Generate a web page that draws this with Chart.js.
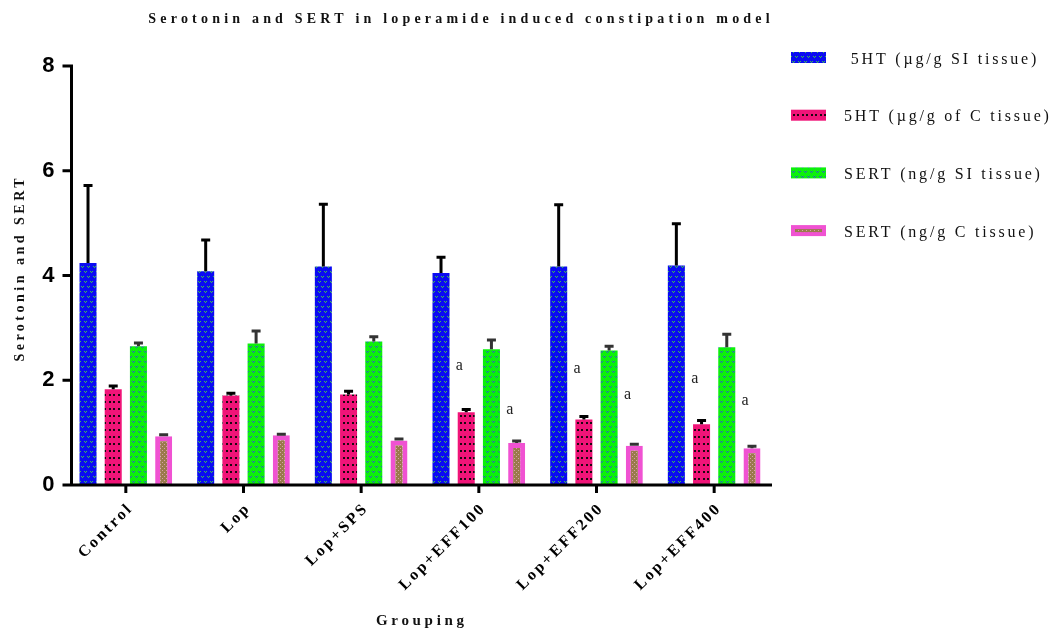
<!DOCTYPE html>
<html>
<head>
<meta charset="utf-8">
<script src="https://cdn.jsdelivr.net/npm/chart.js@4.4.0/dist/chart.umd.min.js"></script>
<style>
  html, body { margin: 0; padding: 0; background: #ffffff; }
  canvas { display: block; }
</style>
</head>
<body>
<canvas id="c" width="1054" height="630"></canvas>
<script>
// ---- data ----
const groups = ['Control', 'Lop', 'Lop+SPS', 'Lop+EFF100', 'Lop+EFF200', 'Lop+EFF400'];
const seriesNames = [' 5HT (µg/g SI tissue)', '5HT (µg/g of C tissue)', 'SERT (ng/g SI tissue)', 'SERT (ng/g C tissue)'];

const ht5SI     = [4.24, 4.08, 4.17, 4.05, 4.17, 4.19];
const ht5SIErr  = [1.48, 0.60, 1.19, 0.30, 1.18, 0.80];
const ht5C      = [1.83, 1.71, 1.73, 1.39, 1.25, 1.16];
const ht5CErr   = [0.06, 0.04, 0.06, 0.05, 0.06, 0.07];
const sertSI    = [2.65, 2.70, 2.74, 2.59, 2.57, 2.63];
const sertSIErr = [0.06, 0.24, 0.09, 0.18, 0.08, 0.25];
const sertC     = [0.93, 0.95, 0.85, 0.80, 0.75, 0.70];
const sertCErr  = [0.03, 0.02, 0.03, 0.04, 0.03, 0.04];

const yTicks = [0, 2, 4, 6, 8];

// significance letters and the value height each one is written at
const sig5htC     = ['', '', '', 'a', 'a', 'a'];
const sig5htCAt   = [null, null, null, 2.26, 2.20, 2.02];
const sigSertC    = ['', '', '', 'a', 'a', 'a'];
const sigSertCAt  = [null, null, null, 1.43, 1.71, 1.60];

const chartTitle = 'Serotonin and SERT in loperamide induced constipation model';
const yTitle = 'Serotonin and SERT';
const xTitle = 'Grouping';

// ---- styling ----
const SERIF = '"Liberation Serif", "Times New Roman", serif';
const SANS = '"Liberation Sans", Arial, sans-serif';
const canvas = document.getElementById('c');
const ctx0 = canvas.getContext('2d');

function makePattern(w, h, bg, paint) {
  const c = document.createElement('canvas');
  c.width = w; c.height = h;
  const g = c.getContext('2d');
  g.fillStyle = bg; g.fillRect(0, 0, w, h);
  paint(g);
  return ctx0.createPattern(c, 'repeat');
}
function vMark(g, x, y) {
  g.fillRect(x, y, 1, 1); g.fillRect(x + 2, y, 1, 1); g.fillRect(x + 1, y + 1, 1, 1);
}
const bluePattern = makePattern(6, 10, '#0B0BF2', g => {
  g.fillStyle = '#3CBF4C'; vMark(g, 0, 1); vMark(g, 3, 6);
});
const greenPattern = makePattern(6, 10, '#0CF00C', g => {
  g.fillStyle = '#2E5CC6'; vMark(g, 0, 1); vMark(g, 3, 6);
});
const pinkPattern = makePattern(9, 7, '#F01478', g => {
  g.fillStyle = '#1C0610'; g.fillRect(1, 2, 2, 2); g.fillRect(5, 2, 2, 2);
});
const brownPattern = makePattern(4, 4, '#9A7A4C', g => {
  g.fillStyle = '#D9A0AA'; g.fillRect(0, 0, 1, 1); g.fillRect(2, 2, 1, 1);
});
const magenta = '#F052D2';

// draw text with tracking; centred text is nudged so the trailing gap is balanced
function trackedText(ctx, text, x, y, font, spacing, color, align, angle) {
  ctx.save();
  ctx.font = font;
  ctx.letterSpacing = spacing + 'px';
  ctx.fillStyle = color;
  ctx.textAlign = align;
  ctx.textBaseline = 'middle';
  ctx.translate(x, y);
  if (angle) ctx.rotate(angle);
  const dx = align === 'center' ? spacing / 2 : 0;
  ctx.fillText(text, dx, 0);
  ctx.restore();
}

const decorations = {
  id: 'decorations',
  beforeDraw(chart) {
    // tracking for the category labels drawn by the x scale
    chart.ctx.letterSpacing = '2.5px';
  },
  afterDatasetsDraw(chart) {
    const ctx = chart.ctx;
    const y = chart.scales.y;
    ctx.save();
    ctx.letterSpacing = '0px';
    // upper error bars
    chart.data.datasets.forEach((ds, i) => {
      const meta = chart.getDatasetMeta(i);
      ctx.strokeStyle = ds.errorColor;
      ctx.lineWidth = 3;
      meta.data.forEach((bar, j) => {
        const top = y.getPixelForValue(ds.data[j] + ds.errors[j]);
        ctx.beginPath();
        ctx.moveTo(bar.x, bar.y);
        ctx.lineTo(bar.x, top);
        ctx.moveTo(bar.x - 4.5, top);
        ctx.lineTo(bar.x + 4.5, top);
        ctx.stroke();
      });
    });
    // significance letters
    const marks = [[1, sig5htC, sig5htCAt], [3, sigSertC, sigSertCAt]];
    ctx.font = '16px ' + SERIF;
    ctx.fillStyle = '#222';
    ctx.textAlign = 'center';
    ctx.textBaseline = 'alphabetic';
    marks.forEach(([di, letters, at]) => {
      const meta = chart.getDatasetMeta(di);
      letters.forEach((t, j) => {
        if (!t) return;
        const bar = meta.data[j];
        ctx.fillText(t, bar.x - bar.width * 0.4, y.getPixelForValue(at[j]) + 3.5);
      });
    });
    ctx.restore();
  },
  afterDraw(chart) {
    const ctx = chart.ctx;
    const { left, right, bottom } = chart.chartArea;
    const x = chart.scales.x, y = chart.scales.y;
    ctx.save();
    ctx.letterSpacing = '0px';
    ctx.strokeStyle = '#000';
    ctx.lineWidth = 3;
    ctx.lineCap = 'butt';
    const axisX = left + 4.5;
    ctx.beginPath();
    ctx.moveTo(axisX, y.getPixelForValue(yTicks[yTicks.length - 1]) - 1.5);
    ctx.lineTo(axisX, bottom + 1.5);
    yTicks.forEach(v => {
      const py = y.getPixelForValue(v);
      ctx.moveTo(axisX - 9, py);
      ctx.lineTo(axisX, py);
    });
    ctx.moveTo(axisX - 1.5, bottom);
    ctx.lineTo(right - 1, bottom);
    groups.forEach((g, i) => {
      const px = x.getPixelForValue(i);
      ctx.moveTo(px, bottom);
      ctx.lineTo(px, bottom + 8);
    });
    ctx.stroke();
    ctx.restore();

    // titles
    trackedText(ctx, chartTitle, 459, 19, 'bold 14px ' + SERIF, 4.2, '#111', 'center');
    trackedText(ctx, yTitle, 20, 270, 'bold 14px ' + SERIF, 3.5, '#111', 'center', -Math.PI / 2);
    trackedText(ctx, xTitle, (left + right) / 2, 621, 'bold 15px ' + SERIF, 3.7, '#111', 'center');

    // legend
    const lx = right + 18, boxW = 35, boxH = 11;
    chart.data.datasets.forEach((ds, i) => {
      const cy = 57.5 + i * 57.7;
      const by = cy - boxH / 2;
      ctx.save();
      if (ds.borderWidth) {
        ctx.fillStyle = ds.borderColor;
        ctx.fillRect(lx, by, boxW, boxH);
        ctx.fillStyle = ds.backgroundColor;
        ctx.fillRect(lx + 4, by + 4, boxW - 8, boxH - 8);
      } else {
        ctx.fillStyle = ds.backgroundColor;
        ctx.fillRect(lx, by, boxW, boxH);
      }
      ctx.restore();
      trackedText(ctx, ds.label, lx + 53, cy + 2, '16px ' + SERIF, 2.8, '#111', 'left');
    });
    ctx.letterSpacing = '0px';
  }
};

new Chart(canvas, {
  type: 'bar',
  data: {
    labels: groups,
    datasets: [
      { label: seriesNames[0], data: ht5SI, errors: ht5SIErr, errorColor: '#000',
        backgroundColor: bluePattern, borderWidth: 0 },
      { label: seriesNames[1], data: ht5C, errors: ht5CErr, errorColor: '#000',
        backgroundColor: pinkPattern, borderWidth: 0 },
      { label: seriesNames[2], data: sertSI, errors: sertSIErr, errorColor: '#333',
        backgroundColor: greenPattern, borderWidth: 0 },
      { label: seriesNames[3], data: sertC, errors: sertCErr, errorColor: '#333',
        backgroundColor: brownPattern, borderColor: magenta, borderWidth: 5, borderSkipped: 'start' }
    ]
  },
  options: {
    responsive: false,
    animation: false,
    devicePixelRatio: 1,
    layout: { padding: { top: 66, right: 281, bottom: 0, left: 0 } },
    datasets: { bar: { barPercentage: 0.675, categoryPercentage: 0.857 } },
    plugins: {
      legend: { display: false },
      title: { display: false },
      tooltip: { enabled: false }
    },
    scales: {
      x: {
        offset: true,
        grid: { display: true, drawOnChartArea: false, drawTicks: false, color: 'rgba(0,0,0,0)' },
        border: { display: false },
        ticks: {
          autoSkip: false,
          minRotation: 45,
          maxRotation: 45,
          padding: 14,
          labelOffset: 5,
          color: '#000',
          font: { family: SERIF, size: 16, weight: 'bold' }
        },
        afterFit(s) { s.height = 145; }
      },
      y: {
        min: 0,
        max: 8,
        grid: { display: true, drawOnChartArea: false, drawTicks: false, color: 'rgba(0,0,0,0)' },
        border: { display: false },
        afterBuildTicks(s) { s.ticks = yTicks.map(v => ({ value: v })); },
        ticks: {
          padding: 10,
          color: '#000',
          font: { family: SANS, size: 22, weight: 'bold' }
        },
        afterFit(s) { s.width = 67; }
      }
    }
  },
  plugins: [decorations]
});
</script>
</body>
</html>
